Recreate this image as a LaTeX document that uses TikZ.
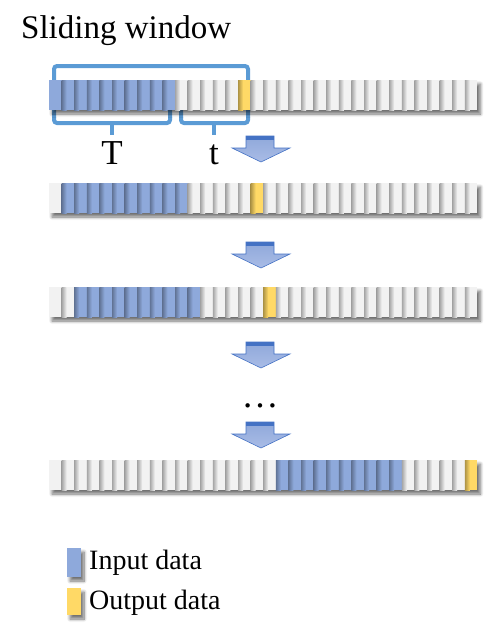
\documentclass[tikz,border=0pt]{standalone}
\usepackage{fontspec}
\setmainfont{Liberation Serif}
\usetikzlibrary{shadows.blur}

\definecolor{inblue}{HTML}{8EA9DB}
\definecolor{outyellow}{HTML}{FFD966}
\definecolor{cellgray}{HTML}{F2F2F2}
\definecolor{brace}{HTML}{5B9BD5}
\definecolor{arrowline}{HTML}{4472C4}
\definecolor{arrowtop}{HTML}{8FA8DA}
\definecolor{arrowbot}{HTML}{A9BCE6}

\begin{document}
\begin{tikzpicture}[
		x=1pt, y=-1pt,
		barshadow/.style={fill=cellgray, blur shadow={shadow xshift=3pt, shadow yshift=-4pt, shadow blur radius=3pt, shadow blur steps=10, shadow opacity=55}},
		bracket/.style={line width=4pt, draw=brace, rounded corners=3pt},
		blockarrow/.style={draw=arrowline, line width=0.6pt, top color=arrowtop, bottom color=arrowbot},
		label/.style={font=\fontsize{35}{40}\selectfont, anchor=base},
		legend/.style={font=\fontsize{28}{32}\selectfont, anchor=base west}
		]
		
		\useasboundingbox (0, 0) rectangle (485, 633);
		
		% Title
		\node[anchor=base west, inner sep=0pt, font=\fontsize{33}{38}\selectfont] (title) at (21, 38) {Sliding window};
		
		% Draw brackets of the first window
		\draw[bracket] (54, 85) -- (54, 66) -- (248, 66) -- (248, 85);
		\draw[bracket] (54, 105) -- (54, 123) -- (170, 123) -- (170, 105);
		\draw[bracket, rounded corners=0pt] (112, 123) -- (112, 135);
		\draw[bracket] (181, 105) -- (181, 123) -- (248, 123) -- (248, 105);
		\draw[bracket, rounded corners=0pt] (214, 123) -- (214, 135);
		
		% Draw data rows (top, first input cell, output cell)
		\foreach \ytop/\bs/\yl in {80/0/15, 183/1/16, 287/2/17, 460/18/33}{
			\path[barshadow] (49, \ytop) rectangle ++(428.4, 30);
			\foreach \i in {0,...,33}{
				\ifnum\i<\bs \def\cc{cellgray}%
				\else\ifnum\i<\numexpr\bs+10\relax \def\cc{inblue}%
				\else\ifnum\i=\yl \def\cc{outyellow}%
				\else \def\cc{cellgray}\fi\fi\fi
				\fill[\cc] (49+\i*12.6, \ytop) rectangle ++(12.6, 30);
				\ifnum\i>0
					\shade[left color=\cc!68!black, right color=\cc] (49+\i*12.6, \ytop) rectangle ++(5, 30);
				\fi
			}
		}
		
		% Labels for window parts
		\node[label, inner sep=0pt] (lenT) at (112, 164) {T};
		\node[label, inner sep=0pt] (lent) at (214, 164) {t};
		
		% Draw block arrows between rows
		\foreach \ya in {136, 242, 342, 422}{
			\draw[blockarrow] (246, \ya) -- (274, \ya) -- (274, \ya+12) -- (290, \ya+12)
				-- (261, \ya+26) -- (232, \ya+12) -- (246, \ya+12) -- cycle;
			\fill[arrowline] (246.3, \ya) rectangle (273.7, \ya+3.5);
		}
		
		% Dots for skipped rows
		\node[anchor=base, inner sep=0pt, font=\fontsize{37}{40}\selectfont] (skip) at (260, 407) {…};
		
		% Legend
		\path[barshadow, fill=inblue] (67, 548) rectangle (81, 577);
		\path[barshadow, fill=outyellow] (67, 588) rectangle (81, 615);
		\node[legend, inner sep=0pt] (inlab) at (89, 569) {Input data};
		\node[legend, inner sep=0pt] (outlab) at (89, 609) {Output data};
		
	\end{tikzpicture}
\end{document}
